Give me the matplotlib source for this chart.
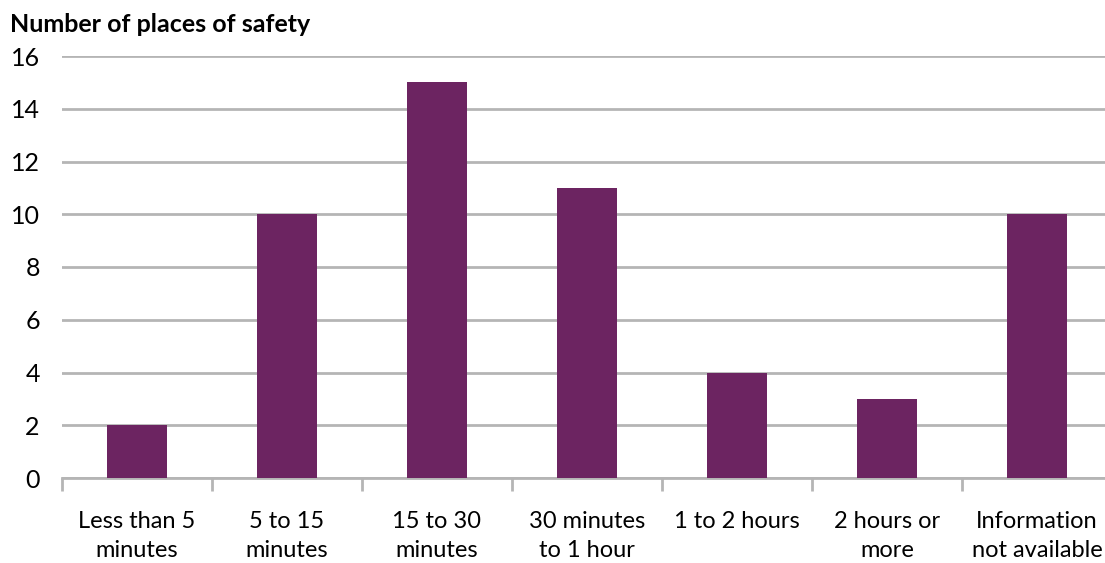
import matplotlib
matplotlib.use("Agg")
import matplotlib.pyplot as plt
import numpy as np

# dados
categorias = ["Less than 5\nminutes", "5 to 15\nminutes", "15 to 30\nminutes",
              "30 minutes\nto 1 hour", "1 to 2 hours", "2 hours or\nmore",
              "Information\nnot available"]
valores = [2, 10, 15, 11, 4, 3, 10]
y_ticks = [0, 2, 4, 6, 8, 10, 12, 14, 16]

plt.rcParams['font.family'] = ['Lato', 'DejaVu Sans']

fig = plt.figure(figsize=(11.05, 5.63), dpi=100)
ax = fig.add_axes([62 / 1105, 1 - 478 / 563, (1105 - 62) / 1105, (478 - 56) / 563])

x = np.arange(len(categorias))
ax.bar(x, valores, width=0.4, color="#6C2461", zorder=3)

ax.set_xlim(-0.5, -0.5 + (1105 - 62) / 150)
ax.set_ylim(0, 16)
ax.set_yticks(y_ticks)
ax.set_yticklabels([str(v) for v in y_ticks], fontsize=18)
ax.yaxis.grid(True, color="#b5b5b5", linewidth=2, zorder=0)
ax.tick_params(axis="y", length=0, pad=16)

ax.set_xticks(x)
ax.set_xticklabels(categorias, fontsize=17, linespacing=1.45, va="top")
ax.tick_params(axis="x", which="major", length=0, pad=24)
ax.set_xticks(np.arange(len(categorias)) - 0.5, minor=True)
ax.tick_params(axis="x", which="minor", length=9, width=2, color="#b5b5b5")

for s in ["top", "right", "left"]:
    ax.spines[s].set_visible(False)
ax.spines["bottom"].set_color("#b5b5b5")
ax.spines["bottom"].set_linewidth(2)

fig.text(10 / 1105, 1 - 25 / 563, "Number of places of safety", fontsize=18,
         fontweight="bold", va="center", ha="left")

fig.savefig("out.png", dpi=100)
